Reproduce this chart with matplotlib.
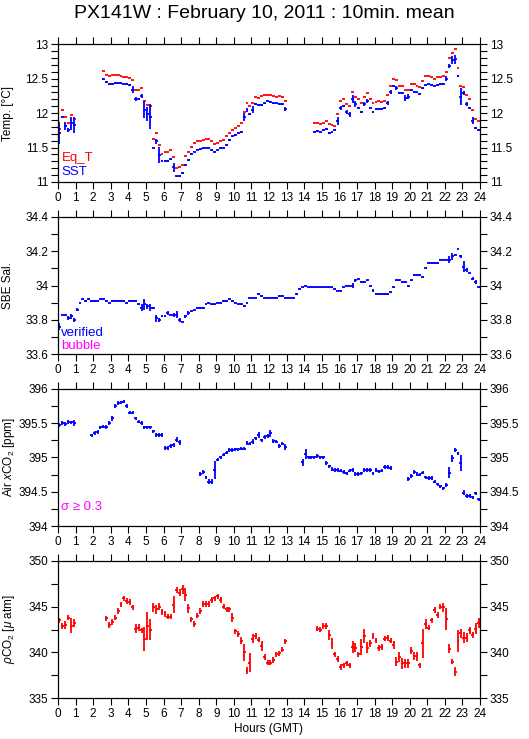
import numpy as np
import matplotlib
matplotlib.use('Agg')
import matplotlib.pyplot as plt
from matplotlib.ticker import MultipleLocator, FuncFormatter

plt.rcParams['font.family'] = ['Liberation Sans', 'DejaVu Sans']
plt.rcParams['mathtext.fontset'] = 'custom'
plt.rcParams['mathtext.rm'] = 'Liberation Sans'
plt.rcParams['mathtext.it'] = 'Liberation Sans:italic'

nan = np.nan

# 10-min means, 6 values per hour (00h ... 23h)
eq_t = [
    11.77, 12.05, 11.95, 11.86, 11.97, 11.92,
    nan, nan, nan, nan, nan, nan,
    nan, nan, nan, 12.61, 12.56, 12.54,
    12.55, 12.56, 12.56, 12.54, 12.53, 12.52,
    12.51, 12.48, 12.34, 12.33, 12.36, 12.18,
    12.12, 12.10, 11.62, 11.71, 11.54, 11.41,
    11.43, 11.43, 11.46, 11.36, 11.20, 11.22,
    11.25, 11.38, 11.44, 11.51, 11.57, 11.59,
    11.60, 11.61, 11.63, 11.63, 11.59, 11.55,
    11.57, 11.59, 11.61, 11.66, 11.71, 11.76,
    11.78, 11.81, 11.85, 12.02, 12.15, 12.10,
    12.14, 12.24, 12.22, 12.25, 12.27, 12.27,
    12.27, 12.25, 12.23, 12.25, 12.23, 12.18,
    nan, nan, nan, nan, nan, nan,
    nan, nan, nan, 11.85, 11.85, 11.84,
    11.86, 11.88, 11.84, 11.82, 11.81, 11.99,
    12.17, 12.20, 12.13, 12.10, 12.30, 12.24,
    12.20, 12.14, 12.23, 12.29, 12.20, 12.15,
    12.16, 12.17, 12.16, 12.18, 12.26, 12.40,
    12.49, 12.48, 12.40, 12.40, 12.34, 12.33,
    12.43, 12.42, 12.40, 12.38, 12.46, 12.54,
    12.54, 12.52, 12.50, 12.53, 12.53, 12.54,
    12.60, 12.80, 12.88, 12.93, 12.65, 12.40,
    12.38, 12.27, 12.20, 12.05, 11.92, 11.88,
]

sst = [
    11.71, 11.94, 11.81, 11.75, 11.85, 11.83,
    nan, nan, nan, nan, nan, nan,
    nan, nan, nan, 12.50, 12.45, 12.42,
    12.43, 12.44, 12.44, 12.44, 12.43, 12.42,
    12.41, 12.34, 12.21, 12.21, 12.25, 12.05,
    11.99, 11.95, 11.50, 11.59, 11.39, 11.30,
    11.30, 11.30, 11.33, 11.21, 11.08, 11.09,
    11.13, 11.25, 11.32, 11.41, 11.44, 11.47,
    11.48, 11.49, 11.50, 11.50, 11.46, 11.44,
    11.47, 11.49, 11.50, 11.54, 11.61, 11.66,
    11.68, 11.71, 11.73, 11.94, 12.05, 11.99,
    12.05, 12.13, 12.12, 12.12, 12.14, 12.18,
    12.16, 12.14, 12.14, 12.13, 12.13, 12.06,
    nan, nan, nan, nan, nan, nan,
    nan, nan, nan, 11.73, 11.74, 11.73,
    11.75, 11.77, 11.71, 11.72, 11.75, 11.89,
    12.07, 12.10, 12.02, 11.98, 12.20, 12.13,
    12.08, 12.02, 12.13, 12.17, 12.08, 12.02,
    12.06, 12.06, 12.06, 12.07, 12.15, 12.31,
    12.39, 12.36, 12.29, 12.29, 12.22, 12.24,
    12.33, 12.31, 12.30, 12.28, 12.36, 12.41,
    12.43, 12.41, 12.40, 12.41, 12.42, 12.42,
    12.50, 12.69, 12.77, 12.78, 12.54, 12.24,
    12.29, 12.13, 12.07, 11.89, 11.78, 11.76,
]
# std of the 10-min mean (index: value), others use the default
sst_err_default = 0.012
sst_err_big = {0: 0.16, 2: 0.06, 3: 0.03, 4: 0.10, 5: 0.12, 25: 0.05, 26: 0.03,
               28: 0.03, 29: 0.12, 30: 0.10, 31: 0.18, 33: 0.04, 34: 0.12,
               39: 0.07, 63: 0.06, 64: 0.03, 66: 0.05, 77: 0.03, 95: 0.06,
               96: 0.03, 98: 0.03, 99: 0.03, 100: 0.06, 101: 0.04, 104: 0.03,
               105: 0.03, 112: 0.03, 113: 0.03, 115: 0.03, 118: 0.04, 119: 0.04,
               132: 0.04, 133: 0.03, 134: 0.06, 135: 0.07, 137: 0.12, 138: 0.03,
               139: 0.03, 141: 0.05}

sal = [
    33.76, 33.83, 33.83, 33.81, 33.82, 33.80,
    33.86, 33.90, 33.92, 33.91, 33.92, 33.91,
    33.91, 33.91, 33.92, 33.92, 33.91, 33.90,
    33.91, 33.91, 33.91, 33.91, 33.91, 33.90,
    33.91, 33.91, 33.91, 33.89, 33.87, 33.89,
    33.88, 33.87, 33.87, 33.81, 33.80, 33.82,
    33.82, 33.84, 33.83, 33.83, 33.83, 33.80,
    33.79, 33.82, 33.84, 33.85, 33.86, 33.87,
    33.87, 33.87, 33.89, 33.90, 33.89, 33.89,
    33.90, 33.90, 33.91, 33.91, 33.92, 33.91,
    33.90, 33.89, 33.89, 33.88, 33.90, 33.93,
    33.93, 33.93, 33.95, 33.94, 33.93, 33.93,
    33.93, 33.93, 33.93, 33.94, 33.94, 33.93,
    33.93, 33.93, 33.93, 33.95, 33.98, 33.99,
    34.00, 33.99, 33.99, 33.99, 33.99, 33.99,
    33.99, 33.99, 33.99, 33.99, 33.98, 33.97,
    33.97, 33.99, 34.00, 34.00, 34.00, 34.03,
    34.04, 34.02, 34.02, 34.03, 34.00, 33.97,
    33.95, 33.95, 33.95, 33.95, 33.95, 33.96,
    33.99, 34.03, 34.03, 34.02, 34.02, 34.00,
    34.03, 34.06, 34.06, 34.06, 34.05, 34.10,
    34.13, 34.13, 34.13, 34.13, 34.15, 34.15,
    34.15, 34.15, 34.17, 34.18, 34.21, 34.17,
    34.11, 34.09, 34.07, 34.04, 34.02, 33.99,
]
sal_err_default = 0.004
sal_err_big = {0: 0.02, 3: 0.01, 4: 0.012, 5: 0.01, 6: 0.01, 28: 0.02, 29: 0.03,
               30: 0.015, 31: 0.02, 33: 0.02, 34: 0.012, 37: 0.01, 39: 0.012,
               40: 0.02, 41: 0.01, 43: 0.01, 44: 0.01, 100: 0.012, 101: 0.01,
               107: 0.01, 133: 0.02, 134: 0.02, 137: 0.01, 138: 0.03, 139: 0.01,
               141: 0.01, 142: 0.01}

air_xco2 = [
    395.47, 395.50, 395.49, 395.51, 395.51, 395.50,
    nan, nan, nan, nan, nan, 395.32,
    395.35, 395.37, 395.44, 395.45, 395.44, 395.50,
    395.57, 395.75, 395.79, 395.80, 395.81, 395.75,
    395.65, 395.65, 395.57, 395.52, 395.50, 395.44,
    395.44, 395.44, 395.38, 395.33, 395.33, 395.33,
    395.14, 395.14, 395.17, 395.18, 395.26, 395.22,
    nan, nan, nan, nan, nan, nan,
    394.76, 394.79, 394.71, 394.65, 394.65, 394.82,
    394.97, 395.00, 395.04, 395.07, 395.11, 395.11,
    395.12, 395.12, 395.13, 395.13, 395.21, 395.20,
    395.23, 395.28, 395.33, 395.25, 395.30, 395.31,
    395.35, 395.24, 395.23, 395.17, 395.20, 395.15,
    nan, nan, nan, nan, nan, 394.93,
    395.05, 395.00, 395.00, 395.00, 395.02, 395.00,
    395.00, 394.92, 394.87, 394.83, 394.82, 394.82,
    394.81, 394.79, 394.77, 394.81, 394.82, 394.76,
    394.76, 394.77, 394.82, 394.82, 394.82, 394.77,
    394.82, 394.80, 394.81, 394.86, 394.86, 394.85,
    nan, nan, nan, nan, nan, 394.69,
    394.73, 394.79, 394.76, 394.75, 394.78, 394.71,
    394.70, 394.70, 394.65, 394.61, 394.58, 394.55,
    394.60, 394.78, 394.99, 395.11, 395.06, 394.92,
    394.49, 394.44, 394.44, 394.42, 394.48, 394.39,
]
xco2_err_default = 0.025
xco2_err_big = {3: 0.03, 5: 0.04, 12: 0.03, 13: 0.03, 16: 0.03, 18: 0.04,
                37: 0.03, 40: 0.04, 41: 0.04, 49: 0.03, 51: 0.04, 52: 0.04,
                53: 0.13, 66: 0.04, 68: 0.04, 72: 0.05, 77: 0.04, 83: 0.05,
                84: 0.07, 88: 0.03, 97: 0.03, 113: 0.03, 133: 0.08, 134: 0.05,
                137: 0.12, 138: 0.04}

pco2 = [
    343.5, 342.9, 343.0, 343.8, 342.9, 343.2,
    nan, nan, nan, nan, nan, nan,
    nan, nan, nan, nan, 343.7, 343.0,
    343.3, 343.8, 344.5, 345.2, 345.9, 345.6,
    345.5, 344.9, 342.6, 342.7, 342.4, 341.5,
    342.9, 342.5, 344.9, 344.7, 345.0, 344.4,
    344.2, 343.9, 343.9, 345.2, 346.8, 346.5,
    346.9, 346.3, 344.8, 343.6, 343.1, 344.0,
    344.5, 345.3, 345.3, 345.3, 345.7, 345.9,
    346.1, 345.7, 345.0, 344.7, 344.7, 343.8,
    342.3, 342.0, 341.3, 340.0, 338.0, 338.9,
    341.5, 341.8, 341.4, 340.7, 339.5, 338.9,
    338.9, 339.2, 339.8, 339.9, 340.3, 341.2,
    nan, nan, nan, nan, nan, nan,
    nan, nan, nan, nan, 342.6, 342.5,
    342.9, 342.9, 341.9, 341.0, 339.8, 339.3,
    338.4, 338.6, 338.8, 338.6, 340.6, 340.5,
    339.8, 340.6, 341.8, 340.5, 341.0, 341.8,
    341.3, 340.5, 340.6, 341.5, 341.6, 341.3,
    340.8, 339.0, 339.5, 338.8, 338.8, 338.8,
    340.2, 339.6, 339.6, 338.6, 341.0, 343.1,
    342.7, 343.5, 344.6, 344.1, 345.0, 344.9,
    343.6, 340.4, 339.0, 337.9, 341.2, 342.1,
    341.6, 341.6, 342.4, 341.9, 342.6, 343.2,
]
pco2_err_default = 0.3
pco2_err_big = {2: 0.4, 4: 0.8, 5: 0.4, 26: 0.5, 27: 0.4, 29: 1.3, 30: 1.5,
                31: 1.1, 32: 0.5, 33: 0.5, 34: 0.4, 39: 0.9, 41: 0.4, 42: 0.5,
                43: 0.7, 44: 0.5, 59: 0.5, 62: 0.4, 63: 0.9, 64: 0.4, 65: 1.0,
                66: 0.5, 69: 0.5, 92: 0.5, 93: 0.6, 100: 0.7, 101: 0.5, 103: 0.9,
                104: 0.8, 105: 0.6, 106: 0.4, 114: 0.4, 115: 0.5, 116: 0.5,
                117: 0.6, 118: 0.5, 119: 0.5, 120: 0.4, 121: 0.4, 122: 0.5,
                124: 1.6, 125: 0.5, 131: 0.5, 132: 1.2, 133: 0.5, 135: 0.5,
                136: 1.2, 137: 0.5, 138: 0.6, 139: 0.5, 140: 0.4, 142: 0.6,
                143: 0.5}

hours = np.arange(144) / 6 + 1 / 12
half = 1 / 12


def err_array(default, big):
    e = np.full(144, default)
    for k, v in big.items():
        e[k] = v
    return e


fig = plt.figure(figsize=(5.29, 7.39), dpi=100)
W, H = 529.0, 739.0
left, width = 58 / W, 422 / W
tops = [44.3, 216.7, 388.7, 560.7]
ph = 137.6

fmt = FuncFormatter(lambda v, p: '%g' % round(v, 3))


def setup(ax, ylim, major, minor, ylabel, labelx=-0.105):
    ax.set_xlim(0, 24)
    ax.set_ylim(*ylim)
    ax.xaxis.set_major_locator(MultipleLocator(1))
    ax.yaxis.set_major_locator(MultipleLocator(major))
    ax.yaxis.set_minor_locator(MultipleLocator(minor))
    ax.yaxis.set_major_formatter(fmt)
    ax.tick_params(which='both', direction='out', length=5, width=0.8,
                   top=True, right=True, labelright=True, labelsize=8.5, pad=2)
    for s in ax.spines.values():
        s.set_linewidth(0.9)
    ax.set_ylabel(ylabel, fontsize=8.5)
    ax.yaxis.set_label_coords(labelx, 0.5)


axes = []
for top in tops:
    ax = fig.add_axes([left, 1 - (top + ph) / H, width, ph / H])
    axes.append(ax)

ax1, ax2, ax3, ax4 = axes

# Temperature
ax1.errorbar(hours, eq_t, xerr=half, fmt='none', ecolor='red', elinewidth=1.3, capsize=0)
ax1.errorbar(hours, sst, xerr=half, yerr=err_array(sst_err_default, sst_err_big),
             fmt='none', ecolor='blue', elinewidth=1.3, capsize=0)
setup(ax1, (11, 13), 0.5, 0.1, 'Temp. [°C]')
ax1.text(0.008, 0.15, 'Eq_T', color='red', fontsize=9.5, transform=ax1.transAxes)
ax1.text(0.008, 0.05, 'SST', color='blue', fontsize=9.5, transform=ax1.transAxes)

# Salinity
ax2.errorbar(hours, sal, xerr=half, yerr=err_array(sal_err_default, sal_err_big),
             fmt='none', ecolor='blue', elinewidth=1.3, capsize=0)
setup(ax2, (33.6, 34.4), 0.2, 0.1, 'SBE Sal.')
ax2.text(0.008, 0.135, 'verified', color='blue', fontsize=9.5, transform=ax2.transAxes)
ax2.text(0.008, 0.04, 'bubble', color='magenta', fontsize=9.5, transform=ax2.transAxes)

# Air xCO2
ax3.errorbar(hours, air_xco2, xerr=half, yerr=err_array(xco2_err_default, xco2_err_big),
             fmt='none', ecolor='blue', elinewidth=1.3, capsize=0)
setup(ax3, (394, 396), 0.5, 0.25, 'Air $x$CO$_2$ [ppm]', labelx=-0.096)
ax3.text(0.008, 0.12, 'σ ≥ 0.3', color='magenta', fontsize=9.5, transform=ax3.transAxes)

# pCO2
ax4.errorbar(hours, pco2, xerr=half, yerr=err_array(pco2_err_default, pco2_err_big),
             fmt='none', ecolor='red', elinewidth=1.3, capsize=0)
setup(ax4, (335, 350), 5, 2.5, r'$\rho$CO$_2$ [$\mu$ atm]', labelx=-0.096)
ax4.set_xlabel('Hours (GMT)', fontsize=8.5, labelpad=2)

fig.text(0.5, 1 - 13 / H, 'PX141W : February 10, 2011 : 10min. mean',
         ha='center', va='center', fontsize=14)

fig.savefig('out.png', dpi=100)
